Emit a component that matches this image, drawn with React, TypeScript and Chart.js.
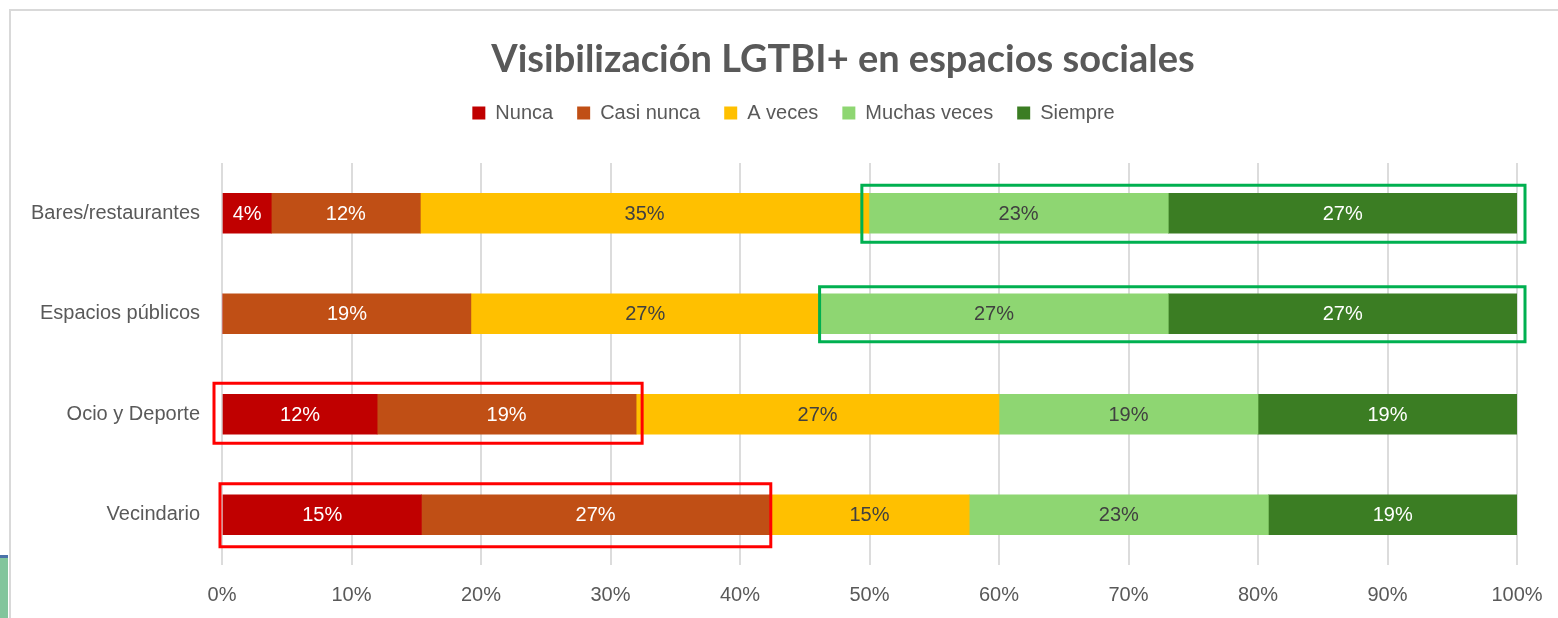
import React, { useEffect, useRef } from 'react';
import { Chart, registerables } from 'chart.js';

Chart.register(...registerables);

// ---------- data ----------
const categories = ['Bares/restaurantes', 'Espacios públicos', 'Ocio y Deporte', 'Vecindario'];
const seriesNames = ['Nunca', 'Casi nunca', 'A veces', 'Muchas veces', 'Siempre'];
const nunca = [3.8, 0, 11.5, 15.4];
const casiNunca = [11.5, 19.2, 19.2, 26.9];
const aVeces = [34.6, 26.9, 26.9, 15.4];
const muchasVeces = [23.1, 26.9, 19.2, 23.1];
const siempre = [26.9, 26.9, 19.2, 19.2];
const xTickValues = [0, 10, 20, 30, 40, 50, 60, 70, 80, 90, 100];
const titleText = 'Visibilización LGTBI+ en espacios sociales';

// highlight frames: category index, first series, last series
const highlightCategory = [0, 1, 2, 3];
const highlightFrom = [3, 3, 0, 0];
const highlightTo = [4, 4, 1, 1];

// ---------- styles ----------
const seriesColors = ['#C00000', '#C04F15', '#FFC000', '#8ED672', '#3B7D23'];
const labelColors = ['#FFFFFF', '#FFFFFF', '#404040', '#404040', '#FFFFFF'];
const highlightColors = ['#00B050', '#00B050', '#FF0000', '#FF0000'];
// frame padding around the bars: left, right, top, bottom (px)
const highlightPads = [
  [7, 8, 8, 9],
  [0, 8, 7, 8],
  [9, 6, 11, 9],
  [3, 1, 11, 12],
];
const TEXT_GRAY = '#595959';
const W = 1558;
const H = 618;

const rawSeries = [nunca, casiNunca, aVeces, muchasVeces, siempre];

const legendSpacer = {
  id: 'legendSpacer',
  beforeInit(chart: any) {
    const lg = chart.legend;
    if (!lg || lg.__patched) return;
    const fit = lg.fit;
    lg.fit = function () {
      fit.call(this);
      this.height += 30;
    };
    lg.__patched = true;
  },
};

const centerShift = {
  id: 'centerShift',
  afterLayout(chart: any) {
    const shift = (box: any, c: number) => {
      if (!box) return;
      const d = c - (box.left + box.right) / 2;
      box.left += d;
      box.right += d;
    };
    shift(chart.titleBlock, 843);
    shift(chart.legend, 793.5);
  },
};

const dataLabels = {
  id: 'dataLabels',
  afterDatasetsDraw(chart: any) {
    const { ctx } = chart;
    ctx.save();
    ctx.font = "20px 'Liberation Sans', Arial, sans-serif";
    ctx.textAlign = 'center';
    ctx.textBaseline = 'middle';
    chart.data.datasets.forEach((_ds: any, di: number) => {
      const meta = chart.getDatasetMeta(di);
      meta.data.forEach((el: any, i: number) => {
        const v = rawSeries[di][i];
        if (!v) return;
        const cx = (el.x + el.base) / 2;
        ctx.fillStyle = labelColors[di];
        ctx.fillText(Math.round(v) + '%', cx, el.y + 1);
      });
    });
    ctx.restore();
  },
};

const highlightFrames = {
  id: 'highlightFrames',
  afterDatasetsDraw(chart: any) {
    const { ctx } = chart;
    ctx.save();
    ctx.lineWidth = 3;
    highlightCategory.forEach((cat, k) => {
      const startEl = chart.getDatasetMeta(highlightFrom[k]).data[cat];
      const endEl = chart.getDatasetMeta(highlightTo[k]).data[cat];
      const x0 = Math.min(startEl.base, startEl.x);
      const x1 = Math.max(endEl.base, endEl.x);
      const y0 = startEl.y - startEl.height / 2;
      const y1 = startEl.y + startEl.height / 2;
      const [pl, pr, pt, pb] = highlightPads[k];
      ctx.strokeStyle = highlightColors[k];
      ctx.strokeRect(x0 - pl, y0 - pt, x1 - x0 + pl + pr, y1 - y0 + pt + pb);
    });
    ctx.restore();
  },
};

export default function App() {
  const canvasRef = useRef<HTMLCanvasElement | null>(null);

  useEffect(() => {
    if (!canvasRef.current) return;
    const totals = categories.map((_, i) => rawSeries.reduce((s, a) => s + a[i], 0));
    const datasets = rawSeries.map((arr, si) => ({
      label: seriesNames[si],
      data: arr.map((v, i) => (v / totals[i]) * 100),
      backgroundColor: seriesColors[si],
      borderColor: seriesColors[si],
      borderWidth: 0,
      barThickness: 40,
    }));

    const chart = new Chart(canvasRef.current, {
      type: 'bar',
      data: { labels: categories, datasets },
      options: {
        indexAxis: 'y',
        responsive: false,
        animation: false,
        devicePixelRatio: 1,
        layout: { padding: { top: 12, left: 0, right: 41, bottom: 11 } },
        scales: {
          x: {
            stacked: true,
            min: 0,
            max: 100,
            afterBuildTicks(scale: any) {
              scale.ticks = xTickValues.map((v) => ({ value: v }));
            },
            afterFit(scale: any) {
              scale.paddingLeft = 0;
              scale.paddingRight = 0;
              scale.height = 42;
            },
            grid: { color: '#DCDCDC', lineWidth: 2, drawTicks: false },
            border: { display: false },
            ticks: {
              padding: 18,
              color: TEXT_GRAY,
              font: { family: "'Liberation Sans', Arial, sans-serif", size: 20 },
              callback: (v: any) => v + '%',
            },
          },
          y: {
            stacked: true,
            afterFit(scale: any) {
              scale.width = 222;
              scale.paddingTop = 0;
              scale.paddingBottom = 0;
            },
            grid: { display: false, drawTicks: false },
            border: { display: false },
            ticks: {
              padding: 22,
              color: TEXT_GRAY,
              font: { family: "'Liberation Sans', Arial, sans-serif", size: 20 },
            },
          },
        },
        plugins: {
          title: {
            display: true,
            text: titleText,
            color: TEXT_GRAY,
            font: { family: 'Lato, sans-serif', size: 38, weight: 'bold', lineHeight: 1 },
            padding: { top: 29, bottom: 0 },
          },
          legend: {
            display: true,
            position: 'top',
            labels: {
              boxWidth: 13,
              boxHeight: 13,
              padding: 24,
              color: TEXT_GRAY,
              font: { family: "'Liberation Sans', Arial, sans-serif", size: 20 },
            },
          },
          tooltip: { enabled: false },
        },
      } as any,
      plugins: [legendSpacer, centerShift, dataLabels, highlightFrames],
    });
    return () => chart.destroy();
  }, []);

  return (
    <div
      style={{
        position: 'fixed',
        left: 0,
        top: 0,
        width: W,
        height: H,
        background: '#FFFFFF',
        overflow: 'hidden',
      }}
    >
      <div
        style={{
          position: 'absolute',
          left: 9,
          top: 9,
          right: 0,
          bottom: 0,
          borderTop: '2px solid #D9D9D9',
          borderLeft: '2px solid #D9D9D9',
        }}
      />
      <div
        style={{
          position: 'absolute',
          left: 0,
          top: 555,
          width: 8,
          height: 63,
          background: '#82C59C',
          borderTop: '3px solid #4A72A8',
          boxSizing: 'border-box',
        }}
      />
      <canvas
        ref={canvasRef}
        width={W}
        height={H}
        style={{ position: 'absolute', left: 0, top: 0, width: W, height: H }}
      />
    </div>
  );
}
